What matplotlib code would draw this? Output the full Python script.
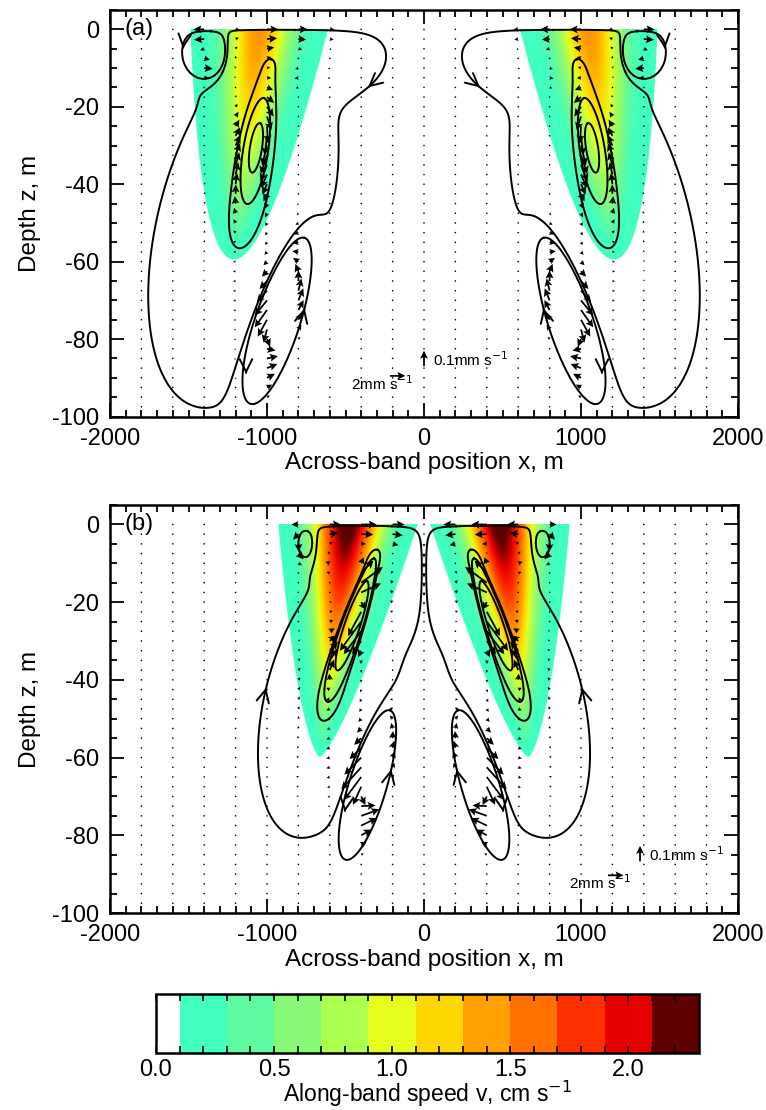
import numpy as np
import matplotlib.pyplot as plt
import contourpy
from matplotlib.colors import ListedColormap, BoundaryNorm, LinearSegmentedColormap
from matplotlib.cm import ScalarMappable
from matplotlib.ticker import MultipleLocator

plt.rcParams['font.family'] = ['Liberation Sans', 'DejaVu Sans']
plt.rcParams['axes.unicode_minus'] = False

# colour classes of along-band speed, cm/s
v_bounds = [0.0, 0.1, 0.3, 0.5, 0.7, 0.9, 1.1, 1.3, 1.5, 1.7, 1.9, 2.1, 2.3]
v_colors = ['#ffffff', '#40ffc0', '#5ffaa0', '#88fa78', '#adff50', '#e6ff1e',
            '#ffd700', '#ffa000', '#ff7000', '#ff3000', '#e60000', '#600000']
cb_ticks = [0.0, 0.5, 1.0, 1.5, 2.0]

# along-band jet (right half, mirrored): peak v, surface centre x, drift of
# centre per m depth, surface half width, depth of tip, narrowing, decay
jet_a = [1.45, 1050, 2.7, 440, 59.5, 0.5, 1.5]
jet_b = [2.30, 484, 3.0, 446, 60.0, 0.7, 1.2]

# overturning cells (right half): amp, x0, z0, sx, sz, shear dx/dz
cells_a = [(1.0, 1065, -29, 95, 15, -3.6),
           (0.35, 1150, -50, 280, 24, -5.0),
           (0.25, 900, -6, 350, 8, 0.0),
           (-0.9, 935, -74, 100, 14, -7.0),
           (-0.30, 1380, -6, 110, 5, 0.0)]
cells_b = [(1.0, 440, -24, 65, 13, -8.0),
           (0.40, 600, -45, 260, 22, -5.0),
           (0.30, 450, -5, 250, 7, 0.0),
           (0.25, 150, -12, 110, 12, 0.0),
           (-1.0, 360, -66, 80, 12, -6.5),
           (-0.30, 750, -5, 60, 4.5, 0.0)]
# largest across / vertical speeds shown by the arrows, mm/s
umax_a, wmax_a = 1.6, 0.13
umax_b, wmax_b = 2.8, 0.19

# points the drawn streamlines pass through (right half, mirrored)
lines_a = [(1095, -37), (1134, -45), (1204, -56), (357, -15), (726, -65), (1535, -4)]
lines_b = [(510, -36), (548, -43), (592, -49.5), (1005, -42), (208, -63), (800, -5)]
# arrow heads on streamlines (right half, mirrored)
heads_a = [(357, -15), (1535, -5), (760, -72), (1133, -89)]
heads_b = [(1005, -42), (208, -63), (505, -74)]

# reference vectors: (x, z) of vertical and horizontal keys
key_a = [(0, -87), (-217, -89.5)]
key_b = [(1376, -86.7), (1172, -90.3)]

PXX, PXZ = 0.157, 3.9   # pixels per metre across / in depth


def jet(x, z, p):
    v0, xc, drift, hw, zb, q, pw = p
    t = np.clip(-z / zb, 0, 1)
    half = hw * (1 - t) ** q + 1e-6
    s = np.abs(x - (xc + drift * (-z))) / half
    sig = 0.5
    e1 = np.exp(-1 / sig ** 2)
    prof = (np.exp(-(s / sig) ** 2) - e1) / (1 - e1)
    centre = 0.1 + (v0 - 0.1) * (1 - t ** pw)
    v = 0.1 + (centre - 0.1) * prof
    return np.where((s < 1) & (t < 1), v, np.nan)


def cell(x, z, c):
    a, x0, z0, sx, sz, k = c
    X = (x - x0 - k * (z - z0)) / sx
    Z = (z - z0) / sz
    return a * np.exp(-X ** 2 - Z ** 2)


def psi(x, z, cells):
    f = 0.0
    for c in cells:
        f = f + cell(x, z, c) - cell(x, -z, c) - cell(-x, z, c) + cell(-x, -z, c)
    return f


def vel(x, z, cells, h=0.05):
    u = (psi(x, z + h, cells) - psi(x, z - h, cells)) / (2 * h)
    w = -(psi(x + h, z, cells) - psi(x - h, z, cells)) / (2 * h)
    return u, w


# continuous colour map for the field
mids = [0.1, 0.2, 0.4, 0.6, 0.8, 1.0, 1.2, 1.4, 1.6, 1.8, 2.0, 2.2, 2.3]
cols = [v_colors[1]] + v_colors[1:] + [v_colors[-1]]
pos = [(m - 0.1) / 2.2 for m in mids]
pos[0], pos[-1] = 0.0, 1.0
field_cmap = LinearSegmentedColormap.from_list('v', list(zip(pos, cols)))
field_cmap.set_bad((1, 1, 1, 0))

xg = np.linspace(-2000, 2000, 1601)
zg = np.linspace(0, -100, 801)
XX, ZZ = np.meshgrid(xg, zg)
xq = np.arange(-1800, 1801, 200)
zq = np.arange(0, -100, -2.5)
XQ, ZQ = np.meshgrid(xq, zq)

fig = plt.figure(figsize=(7.66, 11.10), dpi=100)
ax_a = fig.add_axes([110 / 766, 1 - 416.5 / 1110, 628 / 766, 406.5 / 1110])
ax_b = fig.add_axes([110 / 766, 1 - 913 / 1110, 628 / 766, 408 / 1110])
cax = fig.add_axes([156 / 766, 1 - 1053 / 1110, 543 / 766, 59 / 1110])

panels = [(ax_a, '(a)', jet_a, cells_a, umax_a, wmax_a, lines_a, heads_a, key_a),
          (ax_b, '(b)', jet_b, cells_b, umax_b, wmax_b, lines_b, heads_b, key_b)]

qkw = dict(angles='uv', scale_units='inches', scale=6.5, width=0.0028,
           headwidth=4.5, headlength=4.5, headaxislength=3.8, minlength=1.0,
           color='k', zorder=4)

for ax, tag, jp, cells, umax, wmax, lines, heads, key in panels:
    v = np.fmax(jet(XX, ZZ, jp), jet(-XX, ZZ, jp))
    v = np.ma.masked_invalid(v)
    ax.imshow(v, extent=(-2000, 2000, -100, 0), origin='upper', aspect='auto',
              cmap=field_cmap, vmin=0.1, vmax=2.3, interpolation='bilinear', zorder=1)

    # streamlines: the contour piece of psi that passes the given point
    ps = psi(XX, ZZ, cells)
    gen = contourpy.contour_generator(xg, zg, ps)
    for (x, z) in lines:
        L = float(psi(np.array(x, float), np.array(z, float), cells))
        segs = gen.lines(L)
        seg = min(segs, key=lambda s: np.min(((s[:, 0] - x) * PXX) ** 2 +
                                             ((s[:, 1] - z) * PXZ) ** 2))
        ax.plot(seg[:, 0], seg[:, 1], color='k', lw=1.4, zorder=3)
        ax.plot(-seg[:, 0], seg[:, 1], color='k', lw=1.4, zorder=3)

    # velocity arrows; 2 mm/s across and 0.1 mm/s vertical are drawn equally long
    u, w = vel(XQ, ZQ, cells)
    in_jet = ~np.isnan(np.fmax(jet(XQ, ZQ, jp), jet(-XQ, ZQ, jp)))
    u = u / np.abs(u).max() * umax
    w = np.clip(w / np.abs(w[in_jet]).max() * wmax, -1.3 * wmax, 1.3 * wmax)
    ax.quiver(XQ, ZQ, u / 2.0, w / 0.1, **qkw)

    for (x, z) in heads:
        for sgn in (1, -1):
            xx = sgn * x
            uu, ww = vel(np.array(xx, float), np.array(z, float), cells)
            dpx = np.hypot(uu * PXX, ww * PXZ) + 1e-12
            e = 1.0 / dpx
            ax.annotate('', xy=(xx, z), xytext=(xx - e * uu, z - e * ww),
                        arrowprops=dict(arrowstyle='->,head_length=0.9,head_width=0.45',
                                        lw=1.4, color='k', shrinkA=0, shrinkB=0),
                        zorder=5)

    # reference vectors: 0.1 mm/s vertical, 2 mm/s horizontal
    (xv, zv), (xh, zh) = key
    ax.quiver([xv], [zv], [0], [1], **qkw)
    ax.text(xv + 60, zv + 1.8, '0.1mm s$^{-1}$', fontsize=11, va='center', ha='left')
    ax.quiver([xh], [zh], [1], [0], **qkw)
    ax.text(xh + 150, zh - 2.0, '2mm s$^{-1}$', fontsize=11, va='center', ha='right')

    ax.text(-1910, 0, tag, fontsize=17, va='center', ha='left')
    ax.set_xlim(-2000, 2000)
    ax.set_ylim(-100, 5)
    ax.set_xticks([-2000, -1000, 0, 1000, 2000])
    ax.set_yticks([0, -20, -40, -60, -80, -100])
    ax.xaxis.set_minor_locator(MultipleLocator(100))
    ax.yaxis.set_minor_locator(MultipleLocator(5))
    ax.tick_params(which='both', direction='in', top=True, right=True, width=1.3,
                   labelsize=17)
    ax.tick_params(which='major', length=10, pad=8)
    ax.tick_params(which='minor', length=5)
    for sp in ax.spines.values():
        sp.set_linewidth(1.8)
    ax.set_xlabel('Across-band position x, m', fontsize=17.5, labelpad=2)
    ax.set_ylabel('Depth z, m', fontsize=17.5, labelpad=8)

# colour bar
cb = fig.colorbar(ScalarMappable(norm=BoundaryNorm(v_bounds, len(v_colors)),
                                 cmap=ListedColormap(v_colors)),
                  cax=cax, orientation='horizontal', ticks=cb_ticks,
                  spacing='proportional')
cb.outline.set_linewidth(1.8)
cb.ax.set_xticklabels(['%.1f' % t for t in cb_ticks])
cax.xaxis.set_minor_locator(MultipleLocator(0.1))
cax.tick_params(which='both', direction='in', top=True, bottom=True, length=5,
                width=1.2, labelsize=17, pad=4)
fig.text((156 + 699) / 2 / 766, 1 - 1094 / 1110, 'Along-band speed v, cm s$^{-1}$',
         fontsize=16.5, ha='center', va='center')

fig.savefig('out.png', dpi=100)
